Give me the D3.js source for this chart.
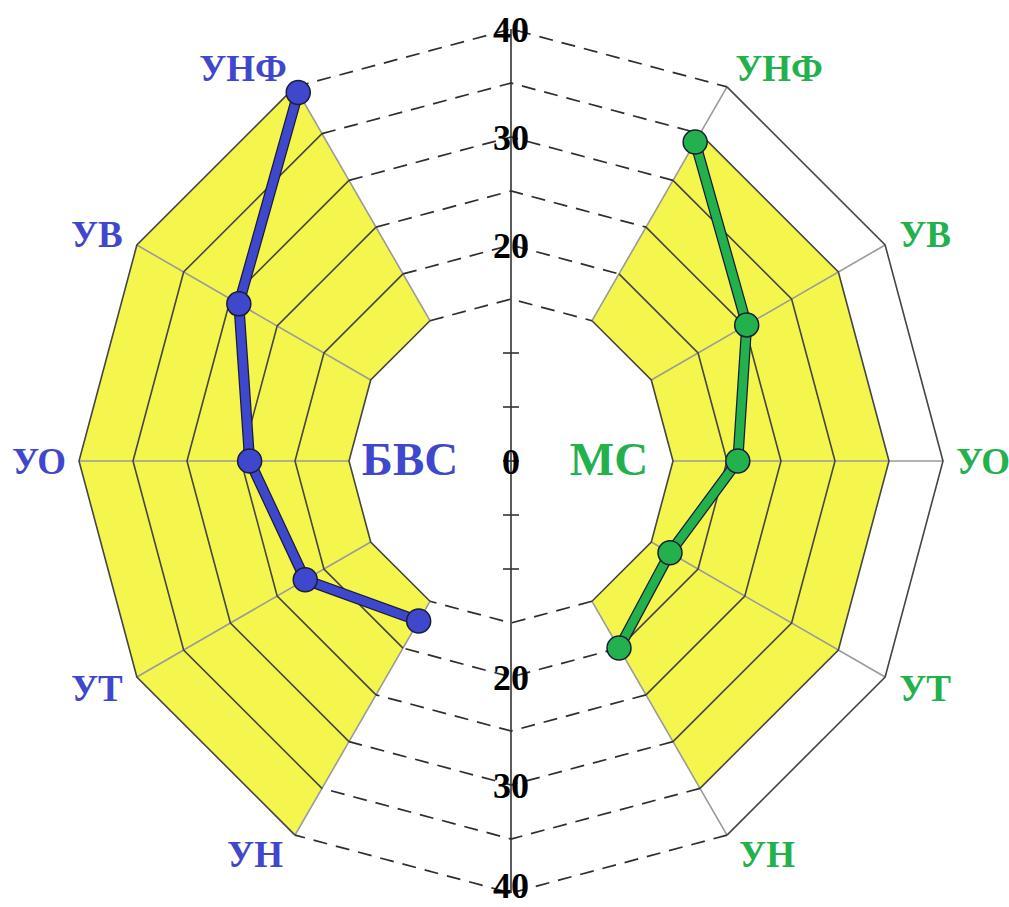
<!DOCTYPE html>
<html><head><meta charset="utf-8">
<script src="https://cdn.jsdelivr.net/npm/d3@7"></script>
<style>html,body{margin:0;padding:0;background:#fff;}svg{display:block;}</style>
</head><body>
<svg id="chart" width="1009" height="907"></svg>
<script>
// ---- data ----
const categories   = ["УНФ", "УВ", "УО", "УТ", "УН"];
const bvsValues    = [39.4, 29.1, 24.2, 22.0, 17.1];   // БВС (left, blue)
const msValues     = [34.1, 25.2, 21.0, 17.0, 20.0];   // МС (right, green)
const ringValues   = [15, 20, 25, 30, 35, 40];
const minorTicks   = [0, 5, 10];
const topLabels    = [20, 30, 40];
const bottomLabels = [20, 30, 40];
const centreLabel  = 0;
const seriesNames  = ["БВС", "МС"];

// ---- setup ----
const W = 1009, H = 907, cx = 511, cy = 461;
const svg = d3.select("#chart");
const g = svg.append("g").attr("transform", `translate(${cx},${cy})`);
const r = d3.scaleLinear().domain([0, 40]).range([0, 432]);
const rad = d => d * Math.PI / 180;
const leftAngles  = categories.map((c, i) => -30 * (i + 1));
const rightAngles = categories.map((c, i) => 30 * (i + 1));
const pt = (a, v) => d3.pointRadial(rad(a), r(v));
const line = d3.line();
const YELLOW = "#f4f64e", BLUE = "#3f48cc", GREEN = "#22b14c";
const RING = "#454545", SPOKE = "#9a9a9a";
const FONT = "'Liberation Serif','Times New Roman',serif";

function arcAngles(a0, a1) { const out = []; for (let a = a0; a <= a1 + 1e-9; a += 30) out.push(a); return out; }
function ringPts(v, a0, a1) { return arcAngles(a0, a1).map(a => pt(a, v)); }
function band(vIn, vOut, a0, a1) {
  return line(ringPts(vOut, a0, a1).concat(ringPts(vIn, a0, a1).reverse())) + "Z";
}

// yellow bands
g.append("path").attr("d", band(15, 40, -150, -30)).attr("fill", YELLOW);
g.append("path").attr("d", band(15, 35, 30, 150)).attr("fill", YELLOW);

// spokes
[leftAngles, rightAngles].forEach(angs => angs.forEach(a => {
  g.append("path").attr("d", line([pt(a, 15), pt(a, 40)]))
    .attr("stroke", SPOKE).attr("stroke-width", 1.6).attr("fill", "none");
}));

// solid rings in yellow sectors (left: 15..40, right: 15..35 plus outer 40)
ringValues.forEach(v => {
  g.append("path").attr("d", line(ringPts(v, -150, -30)))
    .attr("stroke", RING).attr("stroke-width", 1.6).attr("fill", "none");
  g.append("path").attr("d", line(ringPts(v, 30, 150)))
    .attr("stroke", RING).attr("stroke-width", 1.6).attr("fill", "none");
});

// dashed rings in white sectors (top and bottom)
ringValues.forEach(v => {
  [[-30, 30], [150, 210]].forEach(([a0, a1]) => {
    g.append("path").attr("d", line(ringPts(v, a0, a1)))
      .attr("stroke", "#2e2e2e").attr("stroke-width", 1.7).attr("fill", "none")
      .attr("stroke-dasharray", "14,9");
  });
});

// central axis
g.append("line").attr("x1", 0).attr("x2", 0).attr("y1", -r(40)).attr("y2", r(40))
  .attr("stroke", "#333").attr("stroke-width", 1.6);
minorTicks.forEach(v => {
  [-1, 1].forEach(s => {
    if (v === 0 && s === 1) return;
    g.append("line").attr("x1", -8).attr("x2", 8).attr("y1", s * r(v)).attr("y2", s * r(v))
      .attr("stroke", "#333").attr("stroke-width", 1.6);
  });
});

// axis labels
const axisText = (val, y) => g.append("text").attr("x", 0).attr("y", y).attr("dy", "0.35em")
  .attr("text-anchor", "middle").attr("font-family", FONT).attr("font-weight", "bold")
  .attr("font-size", 36).attr("fill", "#000").text(val);
topLabels.forEach(v => axisText(v, -r(v)));
bottomLabels.forEach(v => axisText(v, Math.min(r(v), 424)));
axisText(centreLabel, 0);

// data series
function drawSeries(values, angles, color) {
  const pts = values.map((v, i) => pt(angles[i], v));
  g.append("path").attr("d", line(pts)).attr("fill", "none")
    .attr("stroke", "#1b1b3a").attr("stroke-width", 11).attr("stroke-linejoin", "round");
  g.append("path").attr("d", line(pts)).attr("fill", "none")
    .attr("stroke", color).attr("stroke-width", 8.5).attr("stroke-linejoin", "round");
  g.selectAll(null).data(pts).enter().append("circle")
    .attr("cx", d => d[0]).attr("cy", d => d[1]).attr("r", 12)
    .attr("fill", color).attr("stroke", "#1b1b3a").attr("stroke-width", 1.5);
}
drawSeries(bvsValues, leftAngles, BLUE);
drawSeries(msValues, rightAngles, GREEN);

// category labels
function catLabels(angles, color, side) {
  categories.forEach((c, i) => {
    const a = angles[i];
    const [x, y] = pt(a, 40);
    const dx = side * (i === 0 ? 52 : 40);
    const dy = -22 * Math.cos(rad(a));
    g.append("text").attr("x", x + dx).attr("y", y + dy).attr("dy", "0.35em")
      .attr("text-anchor", "middle").attr("font-family", FONT).attr("font-weight", "bold")
      .attr("font-size", 37).attr("fill", color).text(c);
  });
}
catLabels(leftAngles, BLUE, -1);
catLabels(rightAngles, GREEN, 1);

// series names
g.append("text").attr("x", -101).attr("y", -2).attr("dy", "0.35em").attr("text-anchor", "middle")
  .attr("font-family", FONT).attr("font-weight", "bold").attr("font-size", 47)
  .attr("fill", BLUE).text(seriesNames[0]);
g.append("text").attr("x", 98).attr("y", -2).attr("dy", "0.35em").attr("text-anchor", "middle")
  .attr("font-family", FONT).attr("font-weight", "bold").attr("font-size", 47)
  .attr("fill", GREEN).text(seriesNames[1]);
</script>
</body></html>
